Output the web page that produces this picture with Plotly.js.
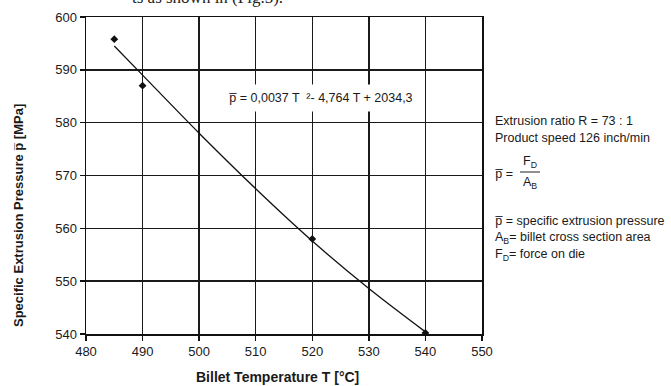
<!DOCTYPE html>
<html>
<head>
<meta charset="utf-8">
<script src="https://cdn.plot.ly/plotly-3.0.1.min.js"></script>
<style>html,body{margin:0;padding:0;background:#fff;}#chart{width:671px;height:386px;}</style>
</head>
<body>
<div id="chart"></div>
<script>
// Measured points
const tempMeasured = [485, 490, 520, 540];
const pressMeasured = [595.8, 587.0, 558.0, 540.2];
// Trend line
const tempTrend = [485, 490, 500, 510, 520, 530, 540];
const pressTrend = [594.5, 589.0, 578.0, 567.5, 557.6, 548.6, 540.4];
// Axis ticks
const xTicks = [480, 490, 500, 510, 520, 530, 540, 550];
const yTicks = [540, 550, 560, 570, 580, 590, 600];

const FONT = 'Liberation Sans, Arial, sans-serif';
const TXT = '#1a1a1a';

// pixel helpers for annotation placement (plot area: l=86, r=482, t=17, b=334)
const L = 86, R = 482, T = 17, B = 334;
const px = x => (x - L) / (R - L);
const py = y => (B - y) / (B - T);

const traces = [
  {
    x: tempTrend, y: pressTrend, type: 'scatter', mode: 'lines',
    line: {color: '#111', width: 1.3, shape: 'spline'}, hoverinfo: 'skip', showlegend: false
  },
  {
    x: tempMeasured, y: pressMeasured, type: 'scatter', mode: 'markers',
    marker: {symbol: 'diamond', size: 6, color: '#111'}, showlegend: false
  }
];

const RS = 12.5;
const rightText = (txt, y, x) => ({
  xref: 'paper', yref: 'paper', x: px(x === undefined ? 493 : x), y: py(y),
  xanchor: 'left', yanchor: 'middle', showarrow: false, text: txt,
  font: {family: FONT, size: RS, color: TXT}
});

const layout = {
  width: 671, height: 386,
  margin: {l: L, r: 671 - R, t: T, b: 386 - B, pad: 0},
  paper_bgcolor: '#fff', plot_bgcolor: '#fff',
  showlegend: false,
  font: {family: FONT, size: 13, color: TXT},
  xaxis: {
    range: [480, 550], tickvals: xTicks, ticktext: xTicks.map(String),
    showgrid: true, gridcolor: '#1a1a1a', gridwidth: 1.4,
    showline: true, linecolor: '#111', linewidth: 1.5, mirror: true,
    ticks: 'outside', ticklen: 5, tickwidth: 1.5, tickcolor: '#111',
    zeroline: false, tickfont: {family: FONT, size: 13, color: TXT}
  },
  yaxis: {
    range: [540, 600], tickvals: yTicks, ticktext: yTicks.map(String),
    showgrid: true, gridcolor: '#1a1a1a', gridwidth: 1.4,
    showline: true, linecolor: '#111', linewidth: 1.5, mirror: true,
    ticks: 'outside', ticklen: 5, tickwidth: 1.5, tickcolor: '#111',
    zeroline: false, tickfont: {family: FONT, size: 13, color: TXT}
  },
  shapes: [
    {type: 'line', xref: 'paper', yref: 'paper', x0: px(520), x1: px(540), y0: py(172), y1: py(172),
     line: {color: '#222', width: 1}}
  ],
  annotations: [
    {xref: 'paper', yref: 'paper', x: px(285), y: py(9), xanchor: 'right', yanchor: 'bottom',
     showarrow: false, text: 'ts as shown in (Fig.5).',
     font: {family: 'Liberation Serif, Times New Roman, serif', size: 17, color: '#222'}},
    {xref: 'paper', yref: 'paper', x: px(277), y: py(377), xanchor: 'center', yanchor: 'middle',
     showarrow: false, text: '<b>Billet Temperature T [°C]</b>',
     font: {family: FONT, size: 14, color: TXT}},
    {xref: 'paper', yref: 'paper', x: px(18), y: py(216), xanchor: 'center', yanchor: 'middle',
     showarrow: false, textangle: -90, text: '<b>Specific Extrusion Pressure p\u0305 [MPa]</b>',
     font: {family: FONT, size: 13, color: TXT}},
    {xref: 'paper', yref: 'paper', x: px(321), y: py(98), xanchor: 'center', yanchor: 'middle',
     showarrow: false, text: 'p\u0305 = 0,0037 T  ²- 4,764 T + 2034,3',
     bgcolor: '#fff', borderpad: 6,
     font: {family: FONT, size: 12.5, color: TXT}},
    rightText('Extrusion ratio R = 73 : 1', 121),
    rightText('Product speed 126 inch/min', 138),
    rightText('p\u0305 =', 174),
    {xref: 'paper', yref: 'paper', x: px(530), y: py(162), xanchor: 'center', yanchor: 'middle',
     showarrow: false, text: 'F<sub>D</sub>', font: {family: FONT, size: RS, color: TXT}},
    {xref: 'paper', yref: 'paper', x: px(530), y: py(183), xanchor: 'center', yanchor: 'middle',
     showarrow: false, text: 'A<sub>B</sub>', font: {family: FONT, size: RS, color: TXT}},
    rightText('p\u0305 = specific extrusion pressure', 221),
    rightText('A<sub>B</sub>= billet cross section area', 238),
    rightText('F<sub>D</sub>= force on die', 255)
  ]
};

Plotly.newPlot('chart', traces, layout, {displayModeBar: false, staticPlot: true});
</script>
</body>
</html>
